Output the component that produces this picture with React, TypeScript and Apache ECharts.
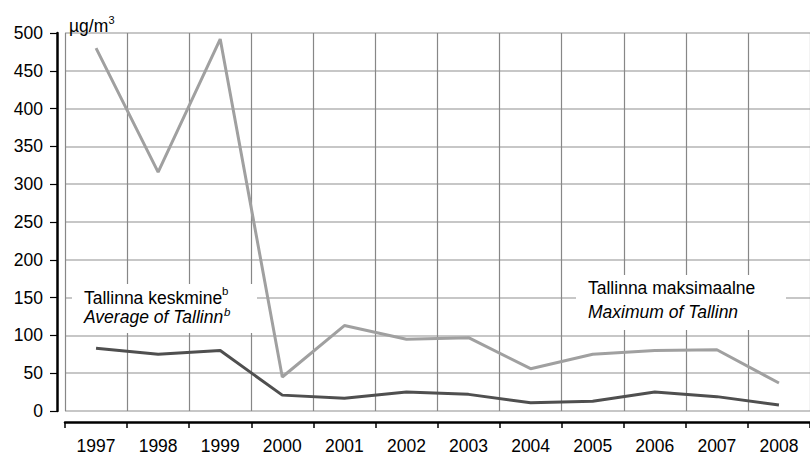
import React, { useEffect, useRef } from "react";
import * as echarts from "echarts";

const years = ["1997", "1998", "1999", "2000", "2001", "2002", "2003", "2004", "2005", "2006", "2007", "2008"];
const maximumOfTallinn = [480, 316, 492, 45, 113, 95, 97, 56, 75, 80, 81, 37];
const averageOfTallinn = [83, 75, 80, 21, 17, 25, 22, 11, 13, 25, 19, 8];
const yMin = 0;
const yMax = 500;
const yStep = 50;

const FONT = "'Liberation Sans', Arial, sans-serif";
const FS = 17.5;
const SUP = 11.5;

export default function App() {
  const ref = useRef<HTMLDivElement>(null);
  useEffect(() => {
    if (!ref.current) return;
    const chart = echarts.init(ref.current, null, { renderer: "svg" });
    const txt = (text: string, x: number, y: number, size: number, italic = false) => ({
      type: "text",
      z: 21,
      x,
      y,
      style: {
        text,
        verticalAlign: "middle",
        fontSize: size,
        fontFamily: FONT,
        fontStyle: italic ? "italic" : "normal",
        fill: "#000",
      },
    });
    chart.setOption({
      animation: false,
      backgroundColor: "#fff",
      grid: { left: 65, top: 33, width: 756, height: 378, containLabel: false },
      xAxis: {
        type: "category",
        data: years,
        boundaryGap: true,
        offset: 11,
        axisLine: { show: true, onZero: false, lineStyle: { color: "#000", width: 2.5 } },
        axisTick: { show: true, inside: false, length: 6, alignWithLabel: false, lineStyle: { color: "#000", width: 1.5 } },
        axisLabel: { color: "#000", fontSize: FS, fontFamily: FONT, margin: 15, interval: 0 },
        splitLine: { show: true, interval: 0, lineStyle: { color: "#878787", width: 1.2 } },
      },
      yAxis: {
        type: "value",
        min: yMin,
        max: yMax,
        interval: yStep,
        offset: 8,
        axisLine: { show: true, onZero: false, lineStyle: { color: "#000", width: 2.5 } },
        axisTick: { show: true, length: 7, lineStyle: { color: "#000", width: 1.2 } },
        axisLabel: { color: "#000", fontSize: FS, fontFamily: FONT, margin: 14 },
        splitLine: { show: true, lineStyle: { color: "#b4b4b4", width: 1.5 } },
      },
      series: [
        {
          name: "Tallinna maksimaalne",
          type: "line",
          data: maximumOfTallinn,
          symbol: "none",
          z: 3,
          lineStyle: { color: "#a0a0a0", width: 3 },
          itemStyle: { color: "#a0a0a0" },
        },
        {
          name: "Tallinna keskmine",
          type: "line",
          data: averageOfTallinn,
          symbol: "none",
          z: 4,
          lineStyle: { color: "#4f4f4f", width: 3 },
          itemStyle: { color: "#4f4f4f" },
        },
      ],
      graphic: [
        txt("µg/m", 69, 26, FS),
        txt("3", 108.5, 19.5, 11),
        { type: "rect", z: 20, shape: { x: 72, y: 284, width: 185, height: 49 }, style: { fill: "#fff" } },
        txt("Tallinna keskmine", 84, 298, FS),
        txt("b", 222, 290.5, SUP),
        txt("Average of Tallinn", 84, 317, FS, true),
        txt("b", 224, 312, SUP, true),
        { type: "rect", z: 20, shape: { x: 576, y: 275, width: 210, height: 55 }, style: { fill: "#fff" } },
        txt("Tallinna maksimaalne", 588, 288, FS),
        txt("Maximum of Tallinn", 588, 311.5, FS, true),
      ],
    });
    return () => chart.dispose();
  }, []);
  return (
    <div
      ref={ref}
      style={{ position: "fixed", left: 0, top: 0, width: 810, height: 455, background: "#fff" }}
    />
  );
}
